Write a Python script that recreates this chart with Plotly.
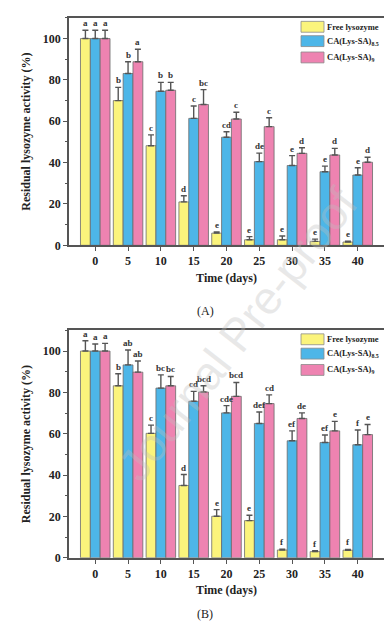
import plotly.graph_objects as go

days = [0, 5, 10, 15, 20, 25, 30, 35, 40]
series_names = ["Free lysozyme", "CA(Lys-SA)<sub>8.5</sub>", "CA(Lys-SA)<sub>9</sub>"]
colors = ["#FBF47C", "#4DB6E8", "#EE83B1"]

# Panel A
a_free = [100, 70, 48.2, 21, 5.9, 2.7, 2.7, 1.9, 1.6]
a_free_err = [4, 6.4, 5.2, 3, 0.6, 1.5, 1.8, 1.1, 0.4]
a_85 = [100, 83.1, 74.5, 61.4, 52.3, 40.5, 38.6, 35.6, 34]
a_85_err = [4, 5.7, 4.3, 6, 2.6, 4.1, 4.8, 2.7, 3.5]
a_9 = [100, 88.8, 75, 68.1, 61.1, 57.4, 44.5, 43.7, 40.2]
a_9_err = [4, 6, 3.8, 7.2, 3.3, 4.3, 2.7, 3.2, 2.4]
a_free_lbl = ["a", "b", "c", "d", "e", "e", "e", "e", "e"]
a_85_lbl = ["a", "b", "b", "c", "cd", "de", "e", "e", "e"]
a_9_lbl = ["a", "a", "b", "bc", "c", "c", "d", "d", "d"]

# Panel B
b_free = [100, 83.2, 60.2, 35, 20.1, 18, 3.8, 3, 3.7]
b_free_err = [5, 5.8, 4, 5.3, 3.2, 2.6, 0.4, 0.4, 0.4]
b_85 = [100, 93.3, 82.1, 75.7, 70.1, 65, 56.6, 55.8, 54.7]
b_85_err = [3.4, 7.2, 6.4, 4.8, 3.5, 5.5, 4.8, 3.6, 7.1]
b_9 = [100, 89.8, 83.2, 80.2, 78.1, 74.6, 67.4, 61.4, 59.6]
b_9_err = [3.7, 5.4, 4.5, 3, 6.7, 4.2, 2.7, 4.6, 4.9]
b_free_lbl = ["a", "b", "c", "d", "e", "e", "f", "f", "f"]
b_85_lbl = ["a", "ab", "bc", "cd", "cde", "def", "ef", "ef", "f"]
b_9_lbl = ["a", "ab", "bc", "bcd", "bcd", "cd", "de", "e", "e"]

yticks = [0, 20, 40, 60, 80, 100]
xticks = days

FONT = "Liberation Serif"
W, H = 392, 632

fig = go.Figure()

panels = [
    ("x", "y", [a_free, a_85, a_9], [a_free_err, a_85_err, a_9_err], [a_free_lbl, a_85_lbl, a_9_lbl]),
    ("x2", "y2", [b_free, b_85, b_9], [b_free_err, b_85_err, b_9_err], [b_free_lbl, b_85_lbl, b_9_lbl]),
]
offsets = [-1.5, 0, 1.5]
annotations = []
for xa, ya, vals, errs, lbls in panels:
    for i in range(3):
        fig.add_trace(go.Bar(
            x=days, y=vals[i], name=series_names[i], xaxis=xa, yaxis=ya,
            marker=dict(color=colors[i], line=dict(color="#6b6b6b", width=0.8)),
            error_y=dict(type="data", array=errs[i], arrayminus=[0] * len(days), symmetric=False,
                         color="#555555", thickness=1.4, width=3),
            showlegend=False, offsetgroup=str(i),
        ))
        for d, v, e, t in zip(days, vals[i], errs[i], lbls[i]):
            annotations.append(dict(
                x=d + offsets[i], y=v + e, xref=xa, yref=ya, text="<b>" + t + "</b>",
                showarrow=False, yanchor="bottom", yshift=0,
                font=dict(family=FONT, size=9, color="#333333"),
            ))

# domains in paper coords
x0, x1 = 61 / W, 376 / W
ya_dom = [1 - 240 / H, 1 - 10 / H]
yb_dom = [1 - 556 / H, 1 - 326 / H]

axis_common = dict(showline=True, linecolor="#555555", linewidth=1.5, mirror=True,
                   ticks="outside", ticklen=4, tickcolor="#555555", tickwidth=1.2,
                   showgrid=False, zeroline=False,
                   tickfont=dict(family=FONT, size=12, color="#222222"))

xax = dict(axis_common, range=[-4, 44], tickvals=xticks, domain=[x0, x1],
           title=dict(text="<b>Time (days)</b>", font=dict(family=FONT, size=12, color="#222222"), standoff=6))
yax = dict(axis_common, range=[0, 110], tickvals=yticks,
           ticktext=["<b>%d</b>" % v for v in yticks],
           minor=dict(ticks="outside", ticklen=2.5, tickcolor="#555555", dtick=10, tick0=0),
           title=dict(text="<b>Residual lysozyme activity (%)</b>", font=dict(family=FONT, size=12, color="#222222"), standoff=10))

fig.update_layout(
    width=W, height=H, margin=dict(l=0, r=0, t=0, b=0),
    paper_bgcolor="white", plot_bgcolor="white",
    barmode="group", bargap=0.1, bargroupgap=0,
    xaxis=dict(xax, anchor="y", ticktext=["<b>%d</b>" % v for v in xticks]),
    yaxis=dict(yax, domain=ya_dom, anchor="x"),
    xaxis2=dict(xax, anchor="y2", ticktext=["<b>%d</b>" % v for v in xticks]),
    yaxis2=dict(yax, domain=yb_dom, anchor="x2"),
)

# manual legends
def add_legend(top_px):
    rows = [0, 14.5, 31]
    for i, r in enumerate(rows):
        yc = top_px + r
        fig.add_shape(type="rect", xref="paper", yref="paper",
                      x0=293 / W, x1=316 / W, y0=1 - (yc + 5.5) / H, y1=1 - (yc - 5.5) / H,
                      fillcolor=colors[i], line=dict(color="#8a8a8a", width=0.8))
        annotations.append(dict(x=318 / W, y=1 - yc / H, xref="paper", yref="paper",
                                text="<b>" + series_names[i] + "</b>", showarrow=False,
                                xanchor="left", yanchor="middle", borderpad=0,
                                font=dict(family=FONT, size=8.5, color="#222222")))

add_legend(19)
add_legend(335)

annotations.append(dict(x=197 / W, y=1 - 306 / H, xref="paper", yref="paper", text="(A)",
                        showarrow=False, font=dict(family=FONT, size=12, color="#222222")))
annotations.append(dict(x=197 / W, y=1 - 622 / H, xref="paper", yref="paper", text="(B)",
                        showarrow=False, font=dict(family=FONT, size=12, color="#222222")))
annotations.append(dict(x=230 / W, y=1 - 330 / H, xref="paper", yref="paper", text="Journal Pre-proof",
                        showarrow=False, textangle=-52,
                        font=dict(family="Liberation Sans", size=46, color="rgba(190,190,190,0.35)")))

fig.update_layout(annotations=annotations)
fig.write_html("out.html")
